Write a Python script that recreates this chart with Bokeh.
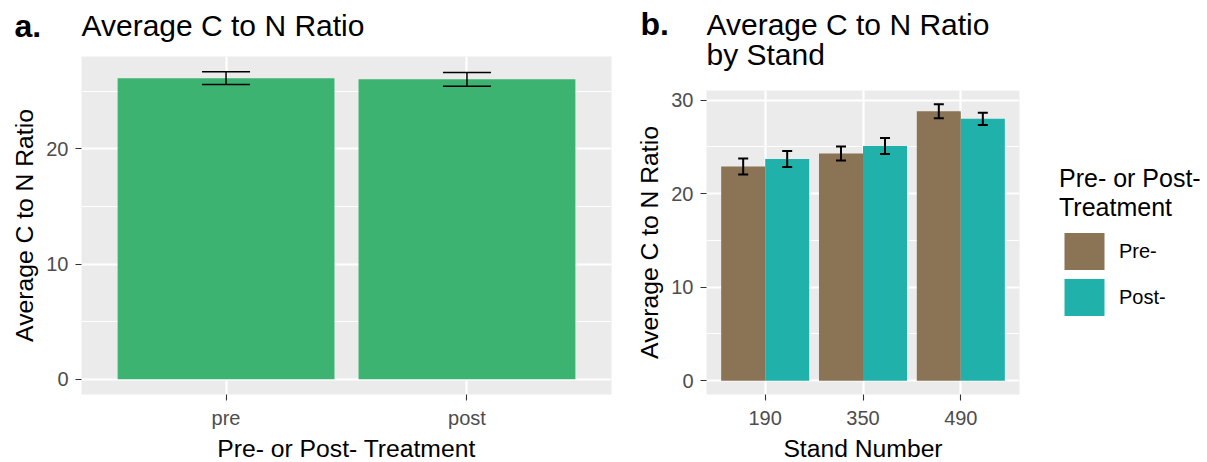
from bokeh.plotting import figure
from bokeh.layouts import row, column
from bokeh.models import (ColumnDataSource, Range1d, FixedTicker, SingleIntervalTicker,
                          Whisker, TeeHead, Label, Legend, LegendItem)
from bokeh.embed import file_html
from bokeh.resources import INLINE

FONT = "Liberation Sans"

# ---- data: panel a ----
treat_labels = ["pre", "post"]
treat_means = [26.15, 26.05]
treat_err = [0.55, 0.6]

# ---- data: panel b ----
stands = ["190", "350", "490"]
group_names = ["Pre-", "Post-"]
pre_means = [22.9, 24.3, 28.8]
post_means = [23.7, 25.1, 28.0]
pre_err = [0.85, 0.75, 0.75]
post_err = [0.85, 0.85, 0.65]

bar_green = "#3CB371"
group_colors = ["#8B7355", "#20B2AA"]

TITLE_SIZE = "30px"
AXIS_TITLE_SIZE = "24.7px"
TICK_SIZE = "20px"
BASE_SHIFT = 12  # correction for label baseline placement


def make_fig(xr, yr, fw, fh, bl, br, bt, bb):
    p = figure(x_range=xr, y_range=yr, frame_width=fw, frame_height=fh,
               min_border_left=bl, min_border_right=br, min_border_top=bt,
               min_border_bottom=bb, output_backend="svg", toolbar_location=None,
               tools="", frame_align=False)
    p.background_fill_color = "#EBEBEB"
    p.border_fill_color = "white"
    p.outline_line_color = None
    return p


def style_axes(p, xticks, xlabels, xtitle, ytitle, x_std, x_lab_std):
    xt = FixedTicker(ticks=xticks)
    yt = SingleIntervalTicker(interval=10, num_minor_ticks=2)
    p.xaxis.ticker = xt
    p.xgrid.ticker = xt
    p.yaxis.ticker = yt
    p.ygrid.ticker = yt
    p.xaxis.major_label_overrides = {t: l for t, l in zip(xticks, xlabels)}
    p.xgrid.grid_line_color = "white"
    p.xgrid.grid_line_width = 2.2
    p.ygrid.grid_line_color = "white"
    p.ygrid.grid_line_width = 2.2
    p.ygrid.minor_grid_line_color = "white"
    p.ygrid.minor_grid_line_width = 1.1
    p.xaxis.axis_label = xtitle
    p.yaxis.axis_label = ytitle
    for ax in (p.xaxis[0], p.yaxis[0]):
        ax.axis_line_color = None
        ax.major_tick_line_color = "#333333"
        ax.major_tick_line_width = 1.1
        ax.major_tick_out = 6
        ax.major_tick_in = 0
        ax.minor_tick_line_color = None
        ax.major_label_text_font = FONT
        ax.major_label_text_font_size = TICK_SIZE
        ax.major_label_text_color = "#4D4D4D"
        ax.axis_label_text_font = FONT
        ax.axis_label_text_font_size = AXIS_TITLE_SIZE
        ax.axis_label_text_font_style = "normal"
        ax.axis_label_text_color = "black"
    p.xaxis.major_label_standoff = x_std
    p.xaxis.axis_label_standoff = x_lab_std
    p.yaxis.major_label_standoff = 7
    p.yaxis.axis_label_standoff = 5


def header(width, height, tag, tag_x, lines):
    """Title strip above a panel: lines = [(text, x, baseline_from_top)]."""
    h = figure(width=width, height=height, x_range=Range1d(0, width),
               y_range=Range1d(0, height), min_border=0, output_backend="svg",
               toolbar_location=None, tools="", x_axis_location=None,
               y_axis_location=None, frame_align=False)
    h.grid.visible = False
    h.outline_line_color = None
    h.background_fill_color = "white"
    h.border_fill_color = "white"
    first_base = lines[0][2]
    h.add_layout(Label(x=tag_x, y=height - first_base + BASE_SHIFT, text=tag,
                       text_font=FONT, text_font_size="32px", text_font_style="bold",
                       text_color="black", text_baseline="alphabetic"))
    for txt, x, base in lines:
        h.add_layout(Label(x=x, y=height - base + BASE_SHIFT, text=txt, text_font=FONT,
                           text_font_size=TITLE_SIZE, text_color="black",
                           text_baseline="alphabetic"))
    return h


# ---------------- panel a ----------------
xa = list(range(1, len(treat_labels) + 1))
upper_a = [m + e for m, e in zip(treat_means, treat_err)]
lower_a = [m - e for m, e in zip(treat_means, treat_err)]
top_a = max(upper_a)
src_a = ColumnDataSource(dict(x=xa, mean=treat_means, upper=upper_a, lower=lower_a))

pa = make_fig(Range1d(0.4, len(xa) + 0.6), Range1d(-0.05 * top_a, 1.05 * top_a),
              530, 338, 81, 14, 0, 68)
pa.vbar(x="x", top="mean", width=0.9, source=src_a, fill_color=bar_green, line_color=None)
pa.add_layout(Whisker(source=src_a, base="x", upper="upper", lower="lower",
                      line_color="black", line_width=1.5, level="overlay",
                      upper_head=TeeHead(size=48, line_color="black", line_width=1.5),
                      lower_head=TeeHead(size=48, line_color="black", line_width=1.5)))
style_axes(pa, xa, treat_labels, "Pre- or Post- Treatment", "Average C to N Ratio", 6, 3)
ha = header(625, 56, "a.", 14, [("Average C to N Ratio", 81, 37)])

# ---------------- panel b ----------------
xb = list(range(1, len(stands) + 1))
dodge = 0.225
all_means = [pre_means, post_means]
all_errs = [pre_err, post_err]
uppers = [[m + e for m, e in zip(ms, es)] for ms, es in zip(all_means, all_errs)]
top_b = max(max(u) for u in uppers)

pb = make_fig(Range1d(0.4, len(xb) + 0.6), Range1d(-0.05 * top_b, 1.05 * top_b),
              313, 304, 81, 188, 0, 68)
renderers = []
for gi, (ms, es) in enumerate(zip(all_means, all_errs)):
    off = (gi - 0.5) * 2 * dodge
    src = ColumnDataSource(dict(x=[x + off for x in xb], mean=ms,
                                upper=[m + e for m, e in zip(ms, es)],
                                lower=[m - e for m, e in zip(ms, es)]))
    r = pb.vbar(x="x", top="mean", width=2 * dodge, source=src,
                fill_color=group_colors[gi], line_color=None)
    renderers.append(r)
    pb.add_layout(Whisker(source=src, base="x", upper="upper", lower="lower",
                          line_color="black", line_width=2, level="overlay",
                          upper_head=TeeHead(size=10, line_color="black", line_width=2),
                          lower_head=TeeHead(size=10, line_color="black", line_width=2)))
style_axes(pb, xb, stands, "Stand Number", "Average C to N Ratio", 10, 7)
hb = header(582, 90, "b.", 15, [("Average C to N Ratio", 81, 35.5), ("by Stand", 81, 65.5)])

legend = Legend(items=[LegendItem(label=n, renderers=[r]) for n, r in zip(group_names, renderers)],
                title="Pre- or Post-\nTreatment", location=(40, 74),
                glyph_width=50, glyph_height=46, spacing=0, padding=0, margin=0,
                label_standoff=10, title_standoff=6,
                label_text_font=FONT, label_text_font_size=TICK_SIZE,
                label_text_color="black",
                title_text_font=FONT, title_text_font_size="25px",
                title_text_font_style="normal", title_text_color="black",
                border_line_color=None, background_fill_alpha=0)
pb.add_layout(legend, "right")

layout = row(column(ha, pa), column(hb, pb))
open("out.html", "w").write(file_html(layout, INLINE))
